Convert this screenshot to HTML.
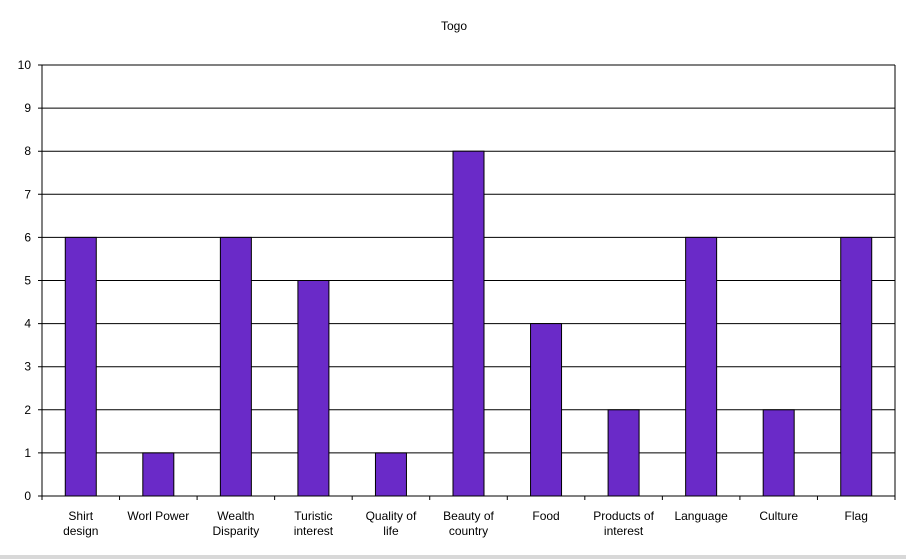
<!DOCTYPE html>
<html><head><meta charset="utf-8"><style>
body{margin:0;background:#fff;width:906px;height:559px;overflow:hidden}
svg{display:block;font-family:"Liberation Sans","DejaVu Sans",sans-serif}
</style></head><body>
<svg id="chart" width="906" height="559">
<rect x="0" y="555" width="906" height="4" fill="#d8d8d8"/>
<text x="454" y="30" font-size="12" text-anchor="middle">Togo</text>
</svg>
<script>
const categories=[["Shirt","design"],["Worl Power"],["Wealth","Disparity"],["Turistic","interest"],["Quality of","life"],["Beauty of","country"],["Food"],["Products of","interest"],["Language"],["Culture"],["Flag"]];
const values=[6,1,6,5,1,8,4,2,6,2,6];
const yTicks=[0,1,2,3,4,5,6,7,8,9,10];
const svg=document.getElementById('chart');
const NS='http://www.w3.org/2000/svg';
const L=42,R=895,T=65,B=496,yMax=10;
const y=v=>B-(B-T)*v/yMax;
const band=(R-L)/categories.length;
const x=i=>L+band*i;
function mk(t,a,parent){const e=document.createElementNS(NS,t);for(const k in a)e.setAttribute(k,a[k]);(parent||svg).appendChild(e);return e;}
const grid=mk('g',{});


yTicks.forEach(t=>{
 const l=mk('line',{x1:38,x2:R,y1:y(t),y2:y(t),stroke:'#000','stroke-width':1},grid);
 
 
 const tx=mk('text',{x:31,y:y(t)+4,'font-size':12,'text-anchor':'end'});
 tx.textContent=t;
 
 
});
const rt=mk('line',{x1:R,x2:R,y1:T,y2:B,stroke:'#000'});


const ax=mk('line',{x1:L,x2:L,y1:T,y2:B,stroke:'#000'});


for(let i=0;i<=categories.length;i++){
 const tk=mk('line',{x1:x(i),x2:x(i),y1:B,y2:B+4,stroke:'#000'});
 
 
}
const bw=31;
values.forEach((v,i)=>{
 const cx=x(i)+band/2;
 const r=mk('rect',{x:cx-bw/2,y:y(v),width:bw,height:B-y(v),fill:'#6a2ac8',stroke:'#000','stroke-width':1});
 
 
 const tx=mk('text',{x:cx,y:520,'font-size':12,'text-anchor':'middle'});
 
 
 categories[i].forEach((s,j)=>{const ts=mk('tspan',{x:cx,dy:j?15:0},tx);ts.textContent=s;});
});
</script>
</body></html>
